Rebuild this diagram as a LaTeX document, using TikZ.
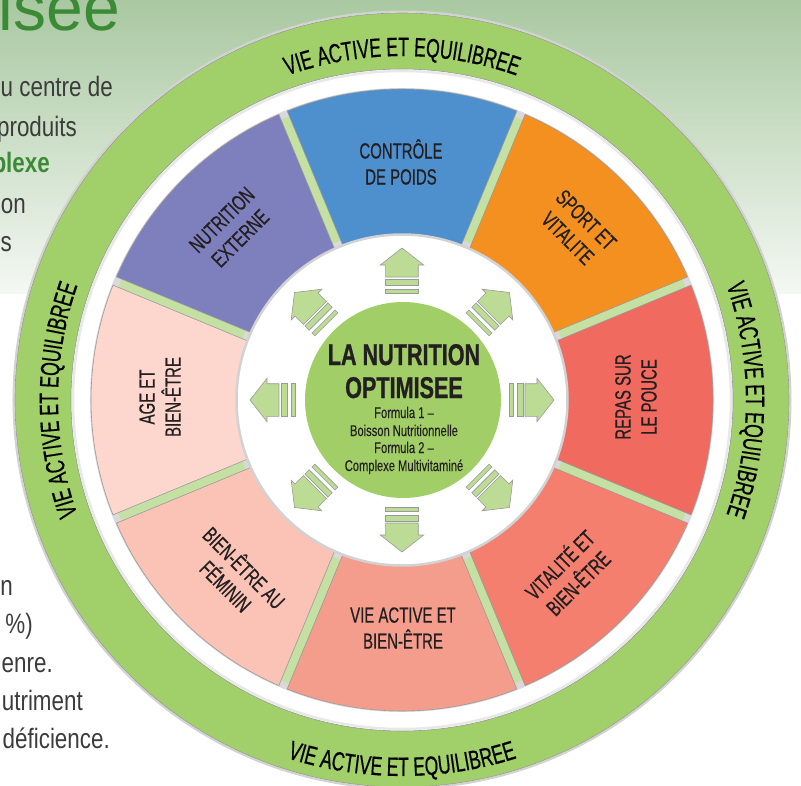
\documentclass[tikz,border=0pt]{standalone}
\usepackage{fontspec}
\setmainfont{Liberation Sans}
\newfontfamily\condf[FakeStretch=0.68, FakeBold=0.5]{Liberation Sans}
\newfontfamily\ringf[FakeStretch=0.66, FakeBold=0.5]{Liberation Sans}
\newfontfamily\centf[FakeStretch=0.72, FakeBold=0.3]{Liberation Sans}
\newfontfamily\centbf[FakeStretch=0.72, FakeBold=0.8]{Liberation Sans}
\newfontfamily\bodyf[FakeStretch=0.8]{Liberation Sans}
\usetikzlibrary{decorations.text}

\definecolor{bgtop}{HTML}{A9C8A1}
\definecolor{bgbot}{HTML}{F4F8F3}
\definecolor{ringgreen}{HTML}{A1CF69}
\definecolor{sepgreen}{HTML}{C4E0A2}
\definecolor{arrowgreen}{HTML}{BCDC96}
\definecolor{coregreen}{HTML}{A2CE68}
\definecolor{titlegreen}{HTML}{3B8B36}
\definecolor{bodygrey}{HTML}{3C3C3C}
\definecolor{inktext}{HTML}{231F20}
\definecolor{segpurple}{HTML}{7E7FBD}
\definecolor{segblue}{HTML}{4E8FCE}
\definecolor{segorange}{HTML}{F39020}
\definecolor{segred}{HTML}{F16A5F}
\definecolor{segsalmon}{HTML}{F47F6E}
\definecolor{segpink}{HTML}{F59D8D}
\definecolor{segrose}{HTML}{FAC3B5}
\definecolor{segpale}{HTML}{FDD7CD}
\definecolor{edgegrey}{HTML}{9A9A9A}

\newcommand\ringstyle{\ringf\fontsize{26.5}{30}\selectfont}

\tikzset{
  seglabel/.style={font=\condf\fontsize{22}{26}\selectfont, text=inktext, align=center, inner sep=0pt},
  bodytext/.style={font=\bodyf\fontsize{28}{34}\selectfont, text=bodygrey, anchor=base east, inner sep=0pt},
  coretitle/.style={font=\centbf\bfseries\fontsize{30}{33}\selectfont, text=inktext, anchor=base, inner sep=0pt},
  coresmall/.style={font=\centf\fontsize{15.5}{17}\selectfont, text=inktext, anchor=base, inner sep=0pt},
  arrowfill/.style={fill=arrowgreen, draw=edgegrey, line width=0.6pt, line join=miter},
  ringtext/.style={decorate, decoration={text along path, text={|\ringstyle|VIE ACTIVE ET EQUILIBREE}, text align=center}},
  outarrow/.pic={
    \filldraw[arrowfill] (123pt,-16.3pt) -- (135pt,-16.3pt) -- (135pt,-21.7pt) -- (152pt,0pt)
      -- (135pt,21.7pt) -- (135pt,16.3pt) -- (123pt,16.3pt) -- cycle;
    \filldraw[arrowfill] (115pt,-16.3pt) rectangle (121pt,16.3pt);
    \filldraw[arrowfill] (107pt,-16.3pt) rectangle (111pt,16.3pt);
  }
}

\begin{document}
\begin{tikzpicture}
\useasboundingbox (-402pt,-385pt) rectangle (399pt,400pt);
% background
\fill[white] (-402pt,-385pt) rectangle (399pt,400pt);
\shade[top color=bgtop, bottom color=bgbot] (-402pt,107pt) rectangle (399pt,400pt);

% side text (cropped page text)
\node[font=\fontsize{66}{70}\selectfont, text=titlegreen, anchor=base east, inner sep=0pt] (titleword) at (-282pt,369pt) {isee};
\node[bodytext] (bodyA) at (-289pt,303pt) {u centre de};
\node[bodytext] (bodyB) at (-325pt,263pt) {produits};
\node[bodytext, text=titlegreen, font=\bodyf\bfseries\fontsize{28}{34}\selectfont] (bodyC) at (-352pt,227pt) {plexe};
\node[bodytext] (bodyD) at (-376pt,187pt) {on};
\node[bodytext] (bodyE) at (-390pt,149pt) {s};
\node[bodytext] (bodyF) at (-389pt,-195pt) {n};
\node[bodytext] (bodyG) at (-369pt,-233pt) {\%)};
\node[bodytext] (bodyH) at (-349pt,-272pt) {enre.};
\node[bodytext] (bodyI) at (-319pt,-310pt) {utriment};
\node[bodytext] (bodyJ) at (-292pt,-348pt) {déficience.};

% outer disc and green ring
\fill[white] (0,0) circle (389pt);
\draw[gray!35, line width=2pt] (0,0) circle (388.5pt);
\fill[ringgreen, even odd rule] (0,0) circle (387pt) (0,0) circle (331pt);
\draw[edgegrey, line width=0.6pt] (0,0) circle (387pt);
\draw[edgegrey, line width=0.6pt] (0,0) circle (331pt);
\draw[gray!18, line width=2.5pt] (0,0) circle (329pt);

% segment base
\fill[gray!30, even odd rule] (0,0) circle (312pt) (0,0) circle (163pt);
\fill[sepgreen, even odd rule] (0,0) circle (305pt) (0,0) circle (171pt);
\foreach \ac/\col in {90/segblue, 45/segorange, 0/segred, -45/segsalmon, -90/segpink, -135/segrose, 180/segpale, 135/segpurple}{
  \pgfmathsetmacro\ao{\ac-22.5+0.83}
  \pgfmathsetmacro\bo{\ac+22.5-0.83}
  \pgfmathsetmacro\ai{\ac-22.5+1.57}
  \pgfmathsetmacro\bi{\ac+22.5-1.57}
  \filldraw[fill=\col, draw=edgegrey, line width=0.6pt]
    (\ao:311pt) arc[start angle=\ao, end angle=\bo, radius=311pt]
    -- (\bi:165pt) arc[start angle=\bi, end angle=\ai, radius=165pt] -- cycle;
}

% central white disc
\fill[white] (0,0) circle (165pt);
\draw[gray!35, line width=2.5pt] (0,0) circle (165.5pt);

% arrows
\foreach \ang in {90,45,0,-45,-90,-135,180,135}{
  \pic[rotate=\ang] at (0,0) {outarrow};
}

% core
\fill[coregreen] (1pt,0pt) circle (98pt);
\node[coretitle] (coreA) at (2pt,35pt) {LA NUTRITION};
\node[coretitle] (coreB) at (2pt,2pt) {OPTIMISEE};
\node[coresmall] (coreC) at (2pt,-18pt) {Formula 1 –};
\node[coresmall] (coreD) at (2pt,-36pt) {Boisson Nutritionnelle};
\node[coresmall] (coreE) at (2pt,-53pt) {Formula 2 –};
\node[coresmall] (coreF) at (2pt,-71pt) {Complexe Multivitaminé};

% segment labels
\node[seglabel] (lblpoids) at (-1pt,238pt) {CONTRÔLE\\DE POIDS};
\node[seglabel, rotate=45] (lblext) at (-171pt,171pt) {NUTRITION\\EXTERNE};
\node[seglabel, rotate=-45] (lblsport) at (175pt,171pt) {SPORT ET\\VITALITE};
\node[seglabel, rotate=90] (lblrepas) at (234pt,3pt) {REPAS SUR\\LE POUCE};
\node[seglabel, rotate=45] (lblvital) at (166pt,-173pt) {VITALITÉ ET\\BIEN-ÊTRE};
\node[seglabel] (lblactive) at (1pt,-228pt) {VIE ACTIVE ET\\BIEN-ÊTRE};
\node[seglabel, rotate=-45] (lblfem) at (-166pt,-176pt) {BIEN-ÊTRE AU\\FÉMININ};
\node[seglabel, rotate=90] (lblage) at (-242pt,3pt) {AGE ET\\BIEN-ÊTRE};

% ring texts
\path[ringtext] (130:344pt) arc[start angle=130, end angle=50, radius=344pt];
\path[ringtext] (40:344pt) arc[start angle=40, end angle=-40, radius=344pt];
\path[ringtext] (220:344pt) arc[start angle=220, end angle=140, radius=344pt];
\path[ringtext] (230:376pt) arc[start angle=230, end angle=310, radius=376pt];
\end{tikzpicture}
\end{document}
